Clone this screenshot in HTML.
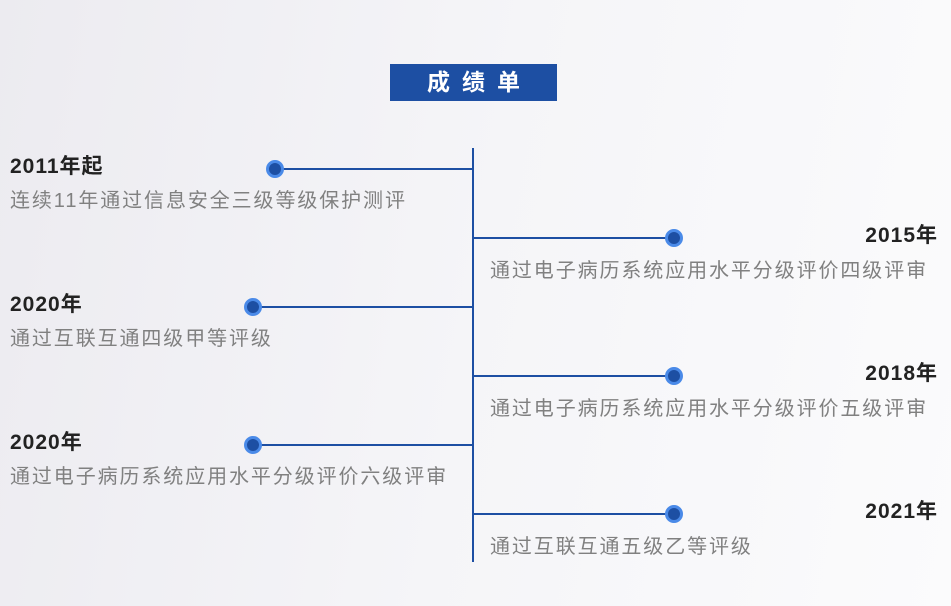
<!DOCTYPE html>
<html><head><meta charset="utf-8"><style>
body{margin:0;width:951px;height:606px;overflow:hidden;position:relative;background:linear-gradient(100deg,#ecebf0 0%,#f5f5f8 50%,#fbfbfc 100%);font-family:"Liberation Sans","Noto Sans CJK SC",sans-serif;}
.a{position:absolute;}
.ban{left:390px;top:64px;width:167px;height:37px;background:#1d4fa3;color:#fff;font-weight:bold;font-size:23px;line-height:37px;text-align:center;letter-spacing:12px;text-indent:12px;}
.v{left:472px;top:148px;width:2px;height:414px;background:#1d4fa3;}
.h{height:2px;background:#1d4fa3;}
.dot{width:12px;height:12px;border-radius:50%;background:#1d4fa3;border:3px solid #4a8ae8;box-sizing:content-box;}
.t{font-size:21px;font-weight:bold;color:#222;white-space:nowrap;line-height:24px;letter-spacing:1px;}
.d{font-size:20px;color:#808080;white-space:nowrap;letter-spacing:1.9px;line-height:26px;}
.r{text-align:right;}
</style></head><body>
<div class="a ban">成绩单</div>
<div class="a v"></div>

<div class="a h" style="left:275px;top:168px;width:198px"></div>
<div class="a dot" style="left:266px;top:160px"></div>
<div class="a t" style="left:10px;top:155px">2011年起</div>
<div class="a d" style="left:10px;top:188px">连续11年通过信息安全三级等级保护测评</div>

<div class="a h" style="left:474px;top:237px;width:200px"></div>
<div class="a dot" style="left:665px;top:229px"></div>
<div class="a t r" style="right:13px;top:224px">2015年</div>
<div class="a d" style="left:490px;top:258px">通过电子病历系统应用水平分级评价四级评审</div>

<div class="a h" style="left:253px;top:306px;width:220px"></div>
<div class="a dot" style="left:244px;top:298px"></div>
<div class="a t" style="left:10px;top:293px">2020年</div>
<div class="a d" style="left:10px;top:326px">通过互联互通四级甲等评级</div>

<div class="a h" style="left:474px;top:375px;width:200px"></div>
<div class="a dot" style="left:665px;top:367px"></div>
<div class="a t r" style="right:13px;top:362px">2018年</div>
<div class="a d" style="left:490px;top:396px">通过电子病历系统应用水平分级评价五级评审</div>

<div class="a h" style="left:253px;top:444px;width:220px"></div>
<div class="a dot" style="left:244px;top:436px"></div>
<div class="a t" style="left:10px;top:431px">2020年</div>
<div class="a d" style="left:10px;top:464px">通过电子病历系统应用水平分级评价六级评审</div>

<div class="a h" style="left:474px;top:513px;width:200px"></div>
<div class="a dot" style="left:665px;top:505px"></div>
<div class="a t r" style="right:13px;top:500px">2021年</div>
<div class="a d" style="left:490px;top:534px">通过互联互通五级乙等评级</div>
</body></html>
